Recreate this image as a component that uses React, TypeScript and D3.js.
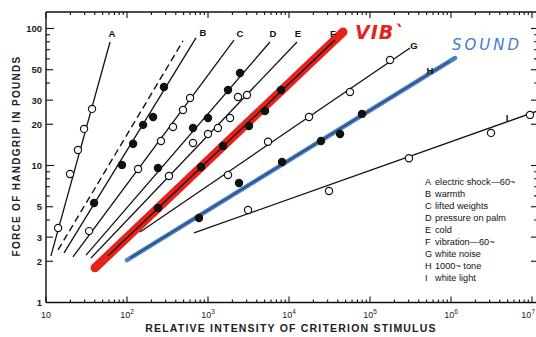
import { useEffect, useRef } from "react"
import * as d3 from "d3"

// criterion continua (legend order)
const keys = ["A", "B", "C", "D", "E", "F", "G", "H", "I"]
const legendLabels = [
  "electric shock\u201460~",
  "warmth",
  "lifted weights",
  "pressure on palm",
  "cold",
  "vibration\u201460~",
  "white noise",
  "1000~ tone",
  "white light",
]
const filledSymbol = [false, true, false, true, false, true, false, true, false]

// fitted equal-sensation lines: [stimulus, force in pounds] at both ends
const lineStarts: [number, number][] = [
  [11.5, 2.19], [16.7, 2.3], [21.5, 2.15], [31.2, 2.22], [35.9, 2.11],
  [58.2, 2.19], [145, 3.27], [109, 2.11], [672, 3.22],
]
const lineEnds: [number, number][] = [
  [61.7, 79.7], [711, 85.3], [2094, 82.4], [5821, 79.7], [12560, 79.7],
  [37000, 82.4], [312000, 72.1], [972000, 57.9], [1.26e7, 25.4],
]

// matched points for each continuum
const pointsA: [number, number][] = [[14.1, 3.5], [19.8, 8.67], [24.8, 12.97], [29.5, 18.5], [37, 25.9]]
const pointsB: [number, number][] = [[39.2, 5.33], [86.7, 10.1], [119, 14.4], [158, 19.8], [210, 22.6], [286, 37.4]]
const pointsC: [number, number][] = [[34, 3.32], [137, 9.43], [263, 15.1], [370, 19.1], [491, 25.4], [600, 31.1]]
const pointsD: [number, number][] = [[241, 9.59], [653, 18.8], [1000, 22.2], [1766, 35.6], [2483, 47.3]]
const pointsE: [number, number][] = [[330, 8.38], [653, 14.6], [1000, 17], [1327, 18.8], [1871, 22.2], [2346, 31.6], [3030, 32.7]]
const pointsF: [number, number][] = [[241, 4.9], [820, 9.75], [1531, 13.9], [3206, 19.4], [5058, 25], [7962, 35.6]]
const pointsG: [number, number][] = [[1766, 8.53], [5508, 14.9], [17660, 22.6], [56600, 34.4], [176600, 58.9]]
const pointsH: [number, number][] = [[774, 4.14], [2415, 7.45], [8200, 10.6], [24830, 15.1], [42700, 17], [79600, 23.8]]
const pointsI: [number, number][] = [[3119, 4.73], [31200, 6.51], [302700, 11.3], [3.12e6, 17.3], [9.44e6, 23.4]]
const allPoints = [pointsA, pointsB, pointsC, pointsD, pointsE, pointsF, pointsG, pointsH, pointsI]

// slope-one reference (dashed)
const dashedLine: [number, number][] = [[14.1, 2.42], [491, 81.1]]

// hand-drawn marker highlights
const vibMarker: [number, number][] = [[40.3, 1.79], [46450, 94.3]]
const soundMarker: [number, number][] = [[100, 2.04], [1.12e6, 60.9]]
const vibNote: [number, number] = [65300, 83.8]
const soundNote: [number, number] = [1.03e6, 69.7]

// axis ticks
const xMajor = [10, 1e2, 1e3, 1e4, 1e5, 1e6, 1e7]
const xExponents = ["", "2", "3", "4", "5", "6", "7"]
const yLabelled = [1, 2, 3, 5, 10, 20, 30, 50, 100]

export default function App() {
  const svgRef = useRef<SVGSVGElement>(null)

  useEffect(() => {
    if (!svgRef.current) return
    const svg = d3.select(svgRef.current)
    svg.selectAll("*").remove()

    const width = 536
    const height = 337
    const left = 46
    const right = 539
    const top = 12
    const bottom = 302.5
    const font = "'Liberation Sans', Arial, sans-serif"

    const x = d3.scaleLog().domain([10, 1e7]).range([46, 532])
    const y = d3.scaleLog().domain([1, 100]).range([302.5, 28.5])

    svg.append("rect").attr("width", width).attr("height", height).attr("fill", "white")

    svg.append("clipPath").attr("id", "frame")
      .append("rect").attr("x", left).attr("y", top).attr("width", right - left).attr("height", bottom - top)

    const plot = svg.append("g").attr("clip-path", "url(#frame)")
    const line = d3.line<[number, number]>().x((d) => x(d[0])).y((d) => y(d[1]))

    // red marker under the vibration line
    plot.append("path")
      .attr("d", line(vibMarker))
      .attr("stroke", "#e5231c")
      .attr("stroke-width", 9)
      .attr("stroke-linecap", "round")
      .attr("fill", "none")

    // blue marker under the tone line
    plot.append("path")
      .attr("d", line(soundMarker))
      .attr("stroke", "#4a7fc6")
      .attr("stroke-width", 4.5)
      .attr("stroke-linecap", "round")
      .attr("fill", "none")

    plot.append("path")
      .attr("d", line(dashedLine))
      .attr("stroke", "#111")
      .attr("stroke-width", 1.4)
      .attr("stroke-dasharray", "7,4")
      .attr("fill", "none")

    keys.forEach((k, i) => {
      plot.append("path")
        .attr("d", line([lineStarts[i], lineEnds[i]]))
        .attr("stroke", k === "H" ? "#1c2f55" : "#111")
        .attr("stroke-opacity", k === "H" ? 0.7 : 1)
        .attr("stroke-width", 1.3)
        .attr("fill", "none")
    })

    allPoints.forEach((pts, i) => {
      plot.selectAll(`circle.s${i}`)
        .data(pts)
        .join("circle")
        .attr("class", `s${i}`)
        .attr("cx", (d) => x(d[0]))
        .attr("cy", (d) => y(d[1]))
        .attr("r", 3.6)
        .attr("fill", filledSymbol[i] ? "#111" : "white")
        .attr("stroke", "#111")
        .attr("stroke-width", 1.2)
    })

    // frame
    const frame = svg.append("g").attr("stroke", "#111").attr("stroke-width", 1.4)
    frame.append("line").attr("x1", left).attr("x2", left).attr("y1", top).attr("y2", bottom)
    frame.append("line").attr("x1", left).attr("x2", right).attr("y1", bottom).attr("y2", bottom)
    frame.append("line").attr("x1", left).attr("x2", right).attr("y1", top).attr("y2", top)
    frame.append("line").attr("x1", right).attr("x2", right).attr("y1", top).attr("y2", bottom)

    // x ticks
    const xMinor: number[] = []
    for (let e = 1; e <= 6; e++) for (let k = 2; k <= 9; k++) xMinor.push(k * 10 ** e)
    const ticks = svg.append("g").attr("stroke", "#111").attr("stroke-width", 1.1)
    xMinor.forEach((v) => {
      ticks.append("line").attr("x1", x(v)).attr("x2", x(v)).attr("y1", bottom).attr("y2", bottom - 3)
      ticks.append("line").attr("x1", x(v)).attr("x2", x(v)).attr("y1", top).attr("y2", top + 3)
    })
    xMajor.forEach((v) => {
      ticks.append("line").attr("x1", x(v)).attr("x2", x(v)).attr("y1", bottom).attr("y2", bottom - 6)
      ticks.append("line").attr("x1", x(v)).attr("x2", x(v)).attr("y1", top).attr("y2", top + 6)
    })

    // y ticks
    const yMinor: number[] = []
    for (let e = 0; e <= 1; e++) for (let k = 2; k <= 9; k++) yMinor.push(k * 10 ** e)
    yMinor.forEach((v) => {
      const long = yLabelled.includes(v)
      ticks.append("line").attr("x1", left).attr("x2", left + (long ? 7 : 4)).attr("y1", y(v)).attr("y2", y(v))
      ticks.append("line").attr("x1", right).attr("x2", right - (long ? 8 : 5)).attr("y1", y(v)).attr("y2", y(v))
    })
    ;[10, 100].forEach((v) => {
      ticks.append("line").attr("x1", left).attr("x2", left + 8).attr("y1", y(v)).attr("y2", y(v))
      ticks.append("line").attr("x1", right).attr("x2", right - 8).attr("y1", y(v)).attr("y2", y(v))
    })

    // tick labels
    const yl = svg.append("g")
      .attr("font-family", font)
      .attr("font-size", 9.5)
      .attr("font-weight", "bold")
      .attr("fill", "#222")
      .attr("text-anchor", "end")
    yLabelled.forEach((v) => {
      yl.append("text").attr("x", 42).attr("y", y(v) + 3.4).text(String(v))
    })

    const xl = svg.append("g")
      .attr("font-family", font)
      .attr("font-size", 9)
      .attr("fill", "#222")
    xMajor.forEach((v, i) => {
      const last = i === xMajor.length - 1
      const t = xl.append("text")
        .attr("x", last ? 535 : x(v))
        .attr("y", 318)
        .attr("text-anchor", last ? "end" : "middle")
      t.append("tspan").text("10")
      if (xExponents[i]) t.append("tspan").attr("dy", -4).attr("font-size", 6.5).text(xExponents[i])
    })

    // axis titles
    svg.append("text")
      .attr("transform", `translate(20, ${156}) rotate(-90)`)
      .attr("text-anchor", "middle")
      .attr("font-family", font)
      .attr("font-size", 10)
      .attr("font-weight", "bold")
      .attr("letter-spacing", 1.3)
      .attr("fill", "#222")
      .text("FORCE OF HANDGRIP IN POUNDS")

    svg.append("text")
      .attr("x", 291)
      .attr("y", 332)
      .attr("text-anchor", "middle")
      .attr("font-family", font)
      .attr("font-size", 10.5)
      .attr("font-weight", "bold")
      .attr("letter-spacing", 1.2)
      .attr("fill", "#222")
      .text("RELATIVE INTENSITY OF CRITERION STIMULUS")

    // curve letters
    const letterOffsets: Record<string, [number, number]> = {
      A: [2, -5.5], B: [7, -1.5], C: [6, -3.5], D: [3, -5.5], E: [1, -5.5],
      F: [-2, -3.5], G: [4, 1], H: [-20, 12.5], I: [-32, 10.5],
    }
    const letters = svg.append("g")
      .attr("font-family", font)
      .attr("font-size", 9.5)
      .attr("font-weight", "bold")
      .attr("fill", "#111")
      .attr("text-anchor", "middle")
    keys.forEach((k, i) => {
      const [dx, dy] = letterOffsets[k]
      letters.append("text")
        .attr("x", Math.min(x(lineEnds[i][0]), right) + dx)
        .attr("y", y(lineEnds[i][1]) + dy)
        .text(k)
    })

    // legend
    const legend = svg.append("g")
      .attr("font-family", font)
      .attr("font-size", 9.2)
      .attr("fill", "#111")
    keys.forEach((k, i) => {
      const row = legend.append("g").attr("transform", `translate(425, ${185 + i * 12})`)
      row.append("text").attr("x", 0).text(k)
      row.append("text").attr("x", 10).text(legendLabels[i])
    })

    // handwritten notes
    svg.append("text")
      .attr("x", x(vibNote[0]))
      .attr("y", y(vibNote[1]))
      .attr("font-family", "'DejaVu Sans', sans-serif")
      .attr("font-size", 19)
      .attr("font-weight", "bold")
      .attr("font-style", "italic")
      .attr("letter-spacing", 1)
      .attr("fill", "#e5231c")
      .text("VIB`")

    svg.append("text")
      .attr("x", x(soundNote[0]))
      .attr("y", y(soundNote[1]))
      .attr("font-family", "'DejaVu Sans', sans-serif")
      .attr("font-size", 15)
      .attr("font-style", "italic")
      .attr("letter-spacing", 3)
      .attr("fill", "#3f7ad2")
      .text("SOUND")
  }, [])

  return (
    <svg
      ref={svgRef}
      width={536}
      height={337}
      style={{ position: "absolute", left: 0, top: 0, display: "block" }}
    />
  )
}
